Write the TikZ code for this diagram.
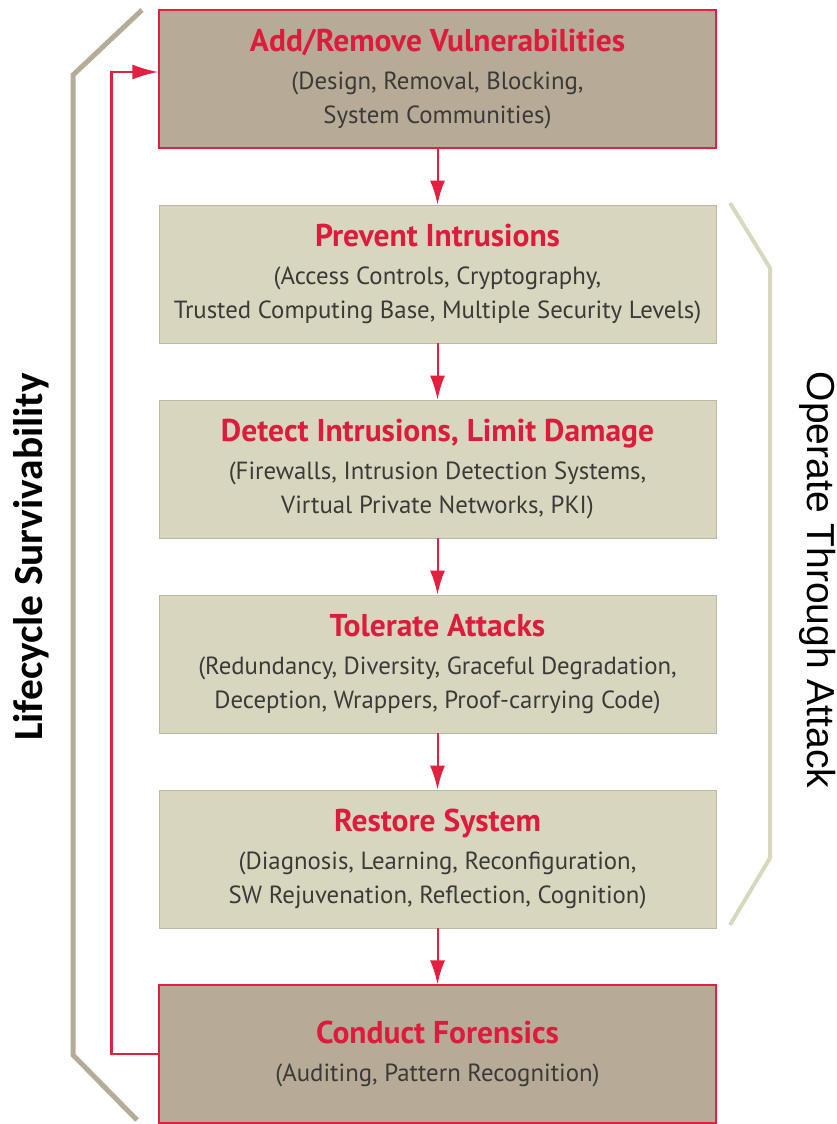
\documentclass[tikz,border=0pt]{standalone}
\usepackage{xcolor}
\usepackage{fontspec}
\setmainfont{PT Sans}
\newfontfamily\lifefont{Carlito}
\newfontfamily\operfont{Liberation Sans}
\usepackage{tikz}
\usetikzlibrary{arrows.meta}
\definecolor{linkred}{HTML}{E2203F}
\definecolor{titlered}{HTML}{DC1C3C}
\definecolor{taupe}{HTML}{B7AA96}
\definecolor{sand}{HTML}{D9D6BF}
\definecolor{sandedge}{HTML}{BDB9A4}
\definecolor{subgray}{HTML}{3A3A38}
\definecolor{lifebar}{HTML}{B5AB99}
\definecolor{operbar}{HTML}{D8D8BE}
\newcommand\boxtitle[1]{{\color{titlered}\bfseries\fontsize{31.5}{36}\selectfont #1}}

\begin{document}
\begin{tikzpicture}[x=1pt,y=-1pt,
  box/.style={draw,minimum width=557pt,minimum height=138pt,inner sep=0pt,
    align=center,text=subgray,font=\fontsize{24.8}{34}\selectfont},
  darkbox/.style={box,fill=taupe,draw=linkred,line width=1.2pt},
  lightbox/.style={box,fill=sand,draw=sandedge,line width=0.8pt},
  flow/.style={-{Latex[length=24pt,width=15pt]},linkred,line width=2pt}]
  \useasboundingbox (0,0) rectangle (837,1124);
  % the six stages
  \node[darkbox] (addvuln) at (437.5,79)
    {\boxtitle{Add/Remove Vulnerabilities}\\[4pt](Design, Removal, Blocking,\\System Communities)};
  \node[lightbox] (prevent) at (437.5,274)
    {\boxtitle{Prevent Intrusions}\\[4pt](Access Controls, Cryptography,\\Trusted Computing Base, Multiple Security Levels)};
  \node[lightbox] (detect) at (437.5,469)
    {\boxtitle{Detect Intrusions, Limit Damage}\\[4pt](Firewalls, Intrusion Detection Systems,\\Virtual Private Networks, PKI)};
  \node[lightbox] (tolerate) at (437.5,664)
    {\boxtitle{Tolerate Attacks}\\[4pt](Redundancy, Diversity, Graceful Degradation,\\Deception, Wrappers, Proof-carrying Code)};
  \node[lightbox] (restore) at (437.5,859)
    {\boxtitle{Restore System}\\[4pt](Diagnosis, Learning, Reconfiguration,\\SW Rejuvenation, Reflection, Cognition)};
  \node[darkbox] (forensics) at (437.5,1054)
    {\boxtitle{Conduct Forensics}\\[4pt](Auditing, Pattern Recognition)};
  \foreach \a/\b in {addvuln/prevent,prevent/detect,detect/tolerate,tolerate/restore,restore/forensics}
    \draw[flow] (\a) -- (\b);
  % feedback loop
  \draw[-{Latex[length=26pt,width=15pt]},linkred,line width=2.4pt]
    (forensics.west) -- ++(-47,0) |- ([yshift=7pt]addvuln.west);
  % brackets
  \draw[lifebar,line width=5pt] (142,10) -- (73,75) -- (73,1055) -- (137,1120);
  \draw[operbar,line width=4pt] (730,203) -- (770,268) -- (770,858) -- (730,925);
  \node[rotate=90,font=\lifefont\bfseries\fontsize{41.4}{44}\selectfont] (lifecycle) at (31,557) {Lifecycle Survivability};
  \node[rotate=-90,font=\operfont\fontsize{39}{42}\selectfont] (operate) at (818,580) {Operate Through Attack};
\end{tikzpicture}
\end{document}
